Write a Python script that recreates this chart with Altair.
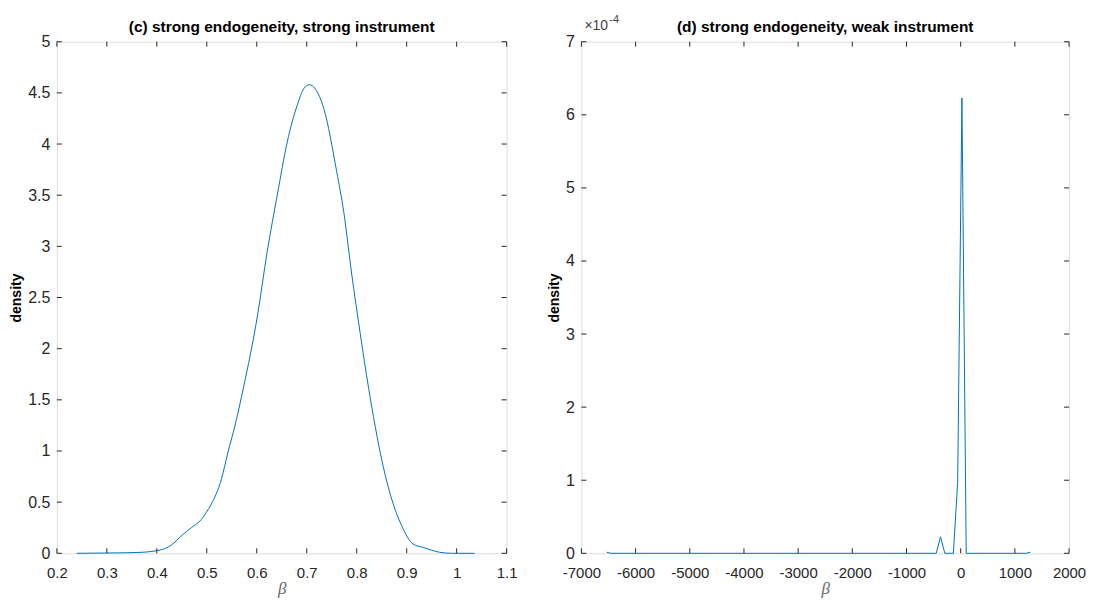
import altair as alt
import pandas as pd

# ---- panel (c): strong endogeneity, strong instrument ----
beta_c = [0.24, 0.28, 0.32, 0.36, 0.38, 0.40, 0.418, 0.429, 0.449, 0.469, 0.489, 0.499,
          0.509, 0.529, 0.542, 0.558, 0.573, 0.601, 0.621, 0.641, 0.661, 0.681, 0.694,
          0.705, 0.717, 0.734, 0.760, 0.774, 0.790, 0.807, 0.824, 0.837, 0.853, 0.870,
          0.890, 0.913, 0.933, 0.966, 0.99, 1.036]
dens_c = [0.0, 0.002, 0.004, 0.008, 0.013, 0.026, 0.05, 0.08, 0.17, 0.25, 0.33, 0.40,
          0.48, 0.72, 0.98, 1.28, 1.61, 2.31, 2.95, 3.50, 4.02, 4.38, 4.54,
          4.58, 4.54, 4.35, 3.73, 3.34, 2.73, 2.15, 1.61, 1.24, 0.85, 0.53,
          0.27, 0.09, 0.058, 0.01, 0.0, 0.0]
xticks_c = [0.2, 0.3, 0.4, 0.5, 0.6, 0.7, 0.8, 0.9, 1, 1.1]
yticks_c = [0, 0.5, 1, 1.5, 2, 2.5, 3, 3.5, 4, 4.5, 5]
title_c = ["(c) strong endogeneity, strong instrument"]

# ---- panel (d): strong endogeneity, weak instrument ----
beta_d = [-6534, -6455, -530, -451, -372, -293, -214, -135, -56, 23, 102, 181, 1208, 1287]
dens_d = [1.5e-6, 0.0, 0.0, 0.0, 2.25e-5, 0.0, 0.0, 0.0, 9.7e-5, 6.23e-4, 0.0, 0.0, 0.0, 1.5e-6]
xticks_d = [-7000, -6000, -5000, -4000, -3000, -2000, -1000, 0, 1000, 2000]
yticks_d = [0, 1e-4, 2e-4, 3e-4, 4e-4, 5e-4, 6e-4, 7e-4]
title_d = ["(d) strong endogeneity, weak instrument"]
exp_base = ["×10"]
exp_power = ["-4"]

FONT = "Liberation Sans, Arial, sans-serif"
AX = "#262626"
LINE = "#0072BD"
H = 513
TL = 5


def panel(beta, dens, xt, yt, title, ylab_expr, interp, W, exponent=False):
    df = pd.DataFrame({"beta": beta, "density": dens})
    xscale = alt.Scale(domain=[xt[0], xt[-1]], nice=False, zero=False)
    yscale = alt.Scale(domain=[yt[0], yt[-1]], nice=False, zero=False)
    xaxis = alt.Axis(values=xt, title="β", labelExpr="toString(datum.value)",
                     ticks=False, domain=False, grid=False, labelFlush=False,
                     labelOverlap=False, labelPadding=12, labelFont=FONT,
                     labelFontSize=15, labelColor=AX, titleFont="Liberation Serif",
                     titleFontStyle="italic", titleFontWeight="normal",
                     titleFontSize=17, titleColor="#666", titlePadding=0)
    yaxis = alt.Axis(values=yt, title="density", labelExpr=ylab_expr,
                     ticks=False, domain=False, grid=False, labelFlush=False,
                     labelOverlap=False, labelPadding=7, labelFont=FONT,
                     labelFontSize=16, labelColor=AX, titleFont=FONT,
                     titleFontWeight="bold", titleFontSize=14, titleColor="#000",
                     titlePadding=4)
    line = alt.Chart(df).mark_line(color=LINE, strokeWidth=1, interpolate=interp).encode(
        x=alt.X("beta:Q", scale=xscale, axis=xaxis),
        y=alt.Y("density:Q", scale=yscale, axis=yaxis),
    )
    xt_df = pd.DataFrame({"beta": xt})
    yt_df = pd.DataFrame({"density": yt})
    rule = dict(color=AX, strokeWidth=1)
    tb = alt.Chart(xt_df).mark_rule(**rule).encode(
        x=alt.X("beta:Q", scale=xscale, axis=xaxis), y=alt.value(H), y2=alt.value(H - TL))
    tt = alt.Chart(xt_df).mark_rule(**rule).encode(
        x=alt.X("beta:Q", scale=xscale, axis=xaxis), y=alt.value(0), y2=alt.value(TL))
    tl = alt.Chart(yt_df).mark_rule(**rule).encode(
        y=alt.Y("density:Q", scale=yscale, axis=yaxis), x=alt.value(0), x2=alt.value(TL))
    tr = alt.Chart(yt_df).mark_rule(**rule).encode(
        y=alt.Y("density:Q", scale=yscale, axis=yaxis), x=alt.value(W), x2=alt.value(W - TL))
    ttl = alt.Chart(pd.DataFrame({"s": title})).mark_text(
        font=FONT, fontSize=15.5, fontWeight="bold", color="#000", align="center",
        baseline="alphabetic"
    ).encode(x=alt.value(W / 2), y=alt.value(-10), text="s:N")
    layers = [line, tb, tt, tl, tr, ttl]
    if exponent:
        e1 = alt.Chart(pd.DataFrame({"s": exp_base})).mark_text(
            font=FONT, fontSize=14, color="#444", align="left", baseline="alphabetic"
        ).encode(x=alt.value(3), y=alt.value(-12), text="s:N")
        e2 = alt.Chart(pd.DataFrame({"s": exp_power})).mark_text(
            font=FONT, fontSize=11, color="#444", align="left", baseline="alphabetic"
        ).encode(x=alt.value(28), y=alt.value(-19), text="s:N")
        layers += [e1, e2]
    return alt.layer(*layers).properties(width=W, height=H)


left = panel(beta_c, dens_c, xticks_c, yticks_c, title_c,
             "toString(datum.value)", "monotone", 451)
right = panel(beta_d, dens_d, xticks_d, yticks_d, title_d,
              "toString(round(datum.value*10000))", "linear", 489, exponent=True)

chart = alt.hconcat(left, right, spacing=75, bounds="flush").properties(
    padding={"left": 1, "top": 4, "right": 0, "bottom": 0}
).configure_view(stroke=AX, strokeWidth=1).configure(background="white")

chart.save("out.html", embed_options={"renderer": "svg", "actions": False})
